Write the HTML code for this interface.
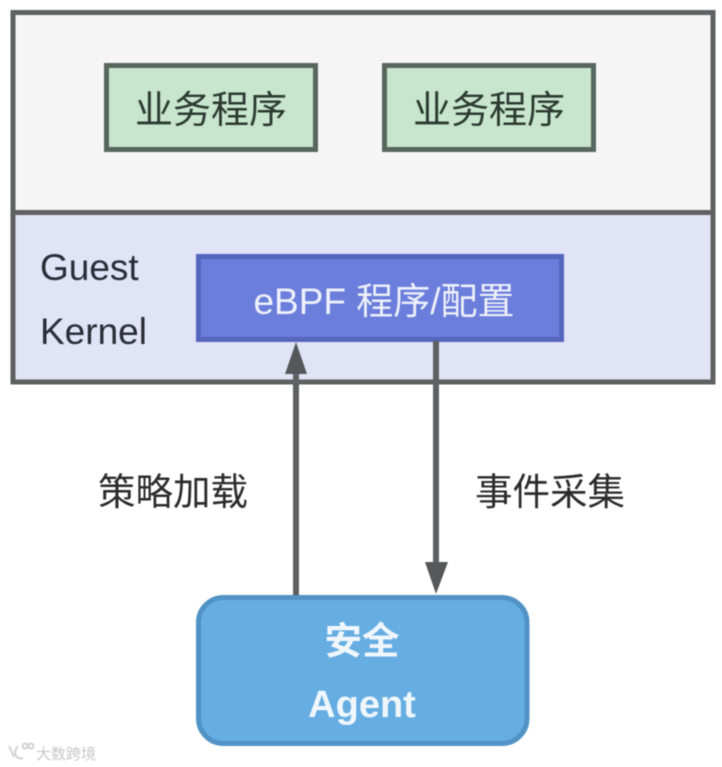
<!DOCTYPE html>
<html>
<head>
<meta charset="utf-8">
<style>
html,body{margin:0;padding:0;background:#fff;width:722px;height:767px;overflow:hidden}
svg{display:block;filter:blur(.5px)}
text{font-family:"Liberation Sans","Noto Sans CJK SC",sans-serif}
</style>
</head>
<body>
<svg width="722" height="767" viewBox="0 0 722 767" xmlns="http://www.w3.org/2000/svg">
<rect x="0" y="0" width="722" height="767" fill="#fff"/>
<rect x="13" y="12" width="700" height="200" fill="#f5f5f5"/>
<rect x="13" y="212" width="700" height="170" fill="#e1e4f7"/>
<rect x="13" y="12.500" width="700" height="369.500" fill="none" stroke="#5f6061" stroke-width="5"/>
<line x1="13" y1="212.500" x2="713" y2="212.500" stroke="#5f6061" stroke-width="5"/>

<rect x="106.500" y="65.500" width="209" height="84" fill="#c8e5cd" stroke="#58665e" stroke-width="5"/>
<rect x="384.500" y="65.500" width="209" height="84" fill="#c8e5cd" stroke="#58665e" stroke-width="5"/>
<text x="211" y="123" font-size="38" fill="#2c3a32" text-anchor="middle">业务程序</text>
<text x="489" y="123" font-size="38" fill="#2c3a32" text-anchor="middle">业务程序</text>

<text x="40" y="280" font-size="37" fill="#2a2d38">Guest</text>
<text x="40" y="344" font-size="37" fill="#2a2d38">Kernel</text>

<rect x="198.500" y="256.500" width="363" height="83" fill="#6b7edb" stroke="#5666bd" stroke-width="5"/>
<text x="384" y="314" font-size="37" fill="#eef1fb" text-anchor="middle">eBPF 程序/配置</text>

<line x1="296" y1="370" x2="296" y2="595" stroke="#5f6061" stroke-width="6"/>
<polygon points="296,342 285,374 307,374" fill="#55585a"/>
<line x1="436" y1="341" x2="436" y2="566" stroke="#5f6061" stroke-width="6"/>
<polygon points="436,594 425,562 448,562" fill="#55585a"/>

<text x="173" y="505" font-size="37.500" fill="#2b2b2b" text-anchor="middle">策略加载</text>
<text x="550" y="505" font-size="37.500" fill="#2b2b2b" text-anchor="middle">事件采集</text>

<rect x="198.500" y="597.500" width="328.500" height="146" rx="25" ry="25" fill="#66ade2" stroke="#5093c4" stroke-width="5"/>
<text x="362" y="654" font-size="37.500" font-weight="bold" fill="#f0f7fc" text-anchor="middle">安全</text>
<text x="362" y="717" font-size="38" font-weight="bold" fill="#f0f7fc" text-anchor="middle">Agent</text>

<g fill="none" stroke="#d2d2d2" stroke-width="2">
<path d="M9 746 L14 757"/>
<path d="M18 746 C13 752 15 760 23 758"/>
<circle cx="25" cy="746" r="2.500"/>
<circle cx="31" cy="746" r="2.500"/>
</g>
<text x="36" y="759" font-size="15" fill="#c8c8c8">大数跨境</text>
</svg>
</body>
</html>
